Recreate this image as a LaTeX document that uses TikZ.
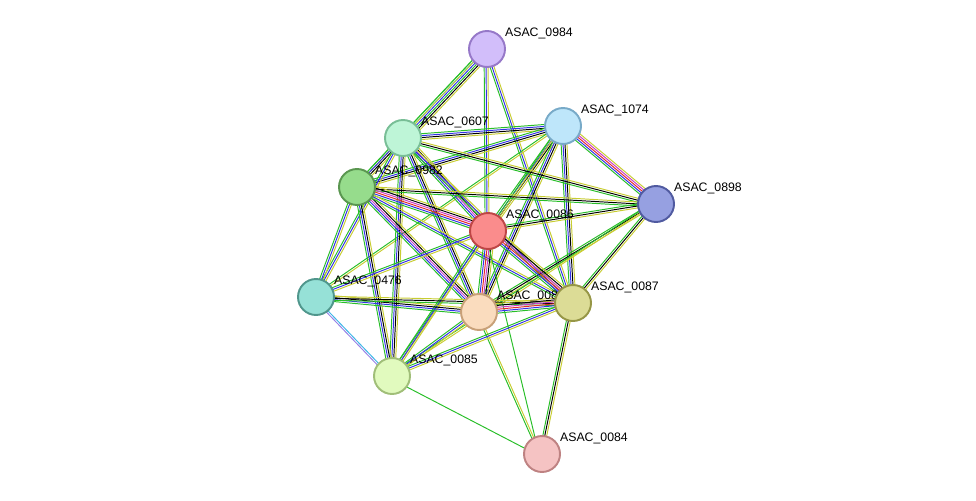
\documentclass[tikz,border=0pt]{standalone}
\usepackage{fontspec}
\setmainfont{Liberation Sans}
\usetikzlibrary{calc}
\definecolor{sgreen}{RGB}{40,190,40}
\definecolor{sblue}{RGB}{50,50,230}
\definecolor{syel}{RGB}{200,205,50}
\definecolor{sred}{RGB}{230,40,40}
\definecolor{smag}{RGB}{200,60,200}
\definecolor{slav}{RGB}{150,130,230}
\definecolor{scyan}{RGB}{60,180,230}
\tikzset{
  prot/.style={circle, minimum size=0.72cm, inner sep=0pt, line width=1.1pt},
  lbl/.style={anchor=south west, inner sep=1pt, font=\fontsize{7}{8}\selectfont},
}
% multi-coloured link between two proteins
\newcommand\lnk[3]{%
  \foreach \c [count=\i] in {#3}{%
    \pgfmathsetmacro\off{(\i-2.5)*1.1}
    \draw[\c, line width=0.55pt] ($(#1)!\off pt!90:(#2)$) -- ($(#2)!\off pt!-90:(#1)$);
  }}
\begin{document}
\begin{tikzpicture}[x=0.02cm, y=-0.02cm]
    \useasboundingbox (0,0) rectangle (976,500);
    % positions
    \coordinate (a0984) at (487,49);
    \coordinate (a1074) at (563,126);
    \coordinate (a0607) at (403,138);
    \coordinate (a0982) at (357,187);
    \coordinate (a0898) at (656,204);
    \coordinate (a0086) at (488,231);
    \coordinate (a0476) at (316,297);
    \coordinate (a0089) at (479,312);
    \coordinate (a0087) at (573,303);
    \coordinate (a0085) at (392,376);
    \coordinate (a0084) at (542,454);

    % links
    \lnk{a0984}{a0607}{sgreen,scyan,sblue,sgreen,black,syel}
    \lnk{a0984}{a0086}{sgreen,sblue,syel}
    \lnk{a0984}{a0087}{sgreen,sblue,syel}
    \lnk{a0984}{a0982}{sgreen,syel}
    \lnk{a1074}{a0607}{sgreen,sblue,black,syel}
    \lnk{a1074}{a0982}{sgreen,sblue,black,syel}
    \lnk{a1074}{a0086}{sgreen,sblue,black,syel}
    \lnk{a1074}{a0089}{sgreen,sblue,black,syel}
    \lnk{a1074}{a0087}{sgreen,sblue,black,syel}
    \lnk{a1074}{a0898}{sgreen,sblue,sred,smag,syel}
    \lnk{a1074}{a0476}{sgreen,syel}
    \lnk{a1074}{a0085}{sgreen,syel}
    \lnk{a0607}{a0982}{sgreen,sblue,black,syel}
    \lnk{a0607}{a0898}{sgreen,black,syel}
    \lnk{a0607}{a0086}{sgreen,sblue,smag,black,syel}
    \lnk{a0607}{a0089}{sgreen,sblue,black,syel}
    \lnk{a0607}{a0087}{sgreen,sblue,syel}
    \lnk{a0607}{a0476}{sgreen,sblue,syel}
    \lnk{a0607}{a0085}{sgreen,sblue,black,syel}
    \lnk{a0982}{a0898}{sgreen,black,syel}
    \lnk{a0982}{a0086}{sgreen,sblue,sred,smag,black,syel}
    \lnk{a0982}{a0089}{sgreen,sblue,smag,black,syel}
    \lnk{a0982}{a0087}{sgreen,sblue,syel}
    \lnk{a0982}{a0476}{sgreen,sblue,syel}
    \lnk{a0982}{a0085}{sgreen,sblue,black,syel}
    \lnk{a0898}{a0086}{sgreen,black,syel}
    \lnk{a0898}{a0089}{sgreen,black,syel}
    \lnk{a0898}{a0087}{sgreen,black,syel}
    \lnk{a0898}{a0085}{sgreen,syel}
    \lnk{a0086}{a0476}{sgreen,sblue,syel}
    \lnk{a0086}{a0089}{sgreen,sblue,sred,smag,black,syel}
    \lnk{a0086}{a0087}{sgreen,sblue,sred,smag,black,syel}
    \lnk{a0086}{a0085}{sgreen,sblue,syel}
    \lnk{a0086}{a0084}{sgreen}
    \lnk{a0476}{a0089}{sgreen,sblue,black,syel}
    \lnk{a0476}{a0087}{sgreen,black,syel}
    \lnk{a0476}{a0085}{slav,scyan}
    \lnk{a0089}{a0087}{sgreen,sblue,sred,smag,black,syel}
    \lnk{a0089}{a0085}{sgreen,sblue,syel}
    \lnk{a0089}{a0084}{sgreen,syel}
    \lnk{a0087}{a0085}{sgreen,sblue,syel}
    \lnk{a0087}{a0084}{sgreen,black,syel}
    \lnk{a0085}{a0084}{sgreen}

    % proteins
    \node[prot, fill={rgb,255:red,210;green,190;blue,250}, draw={rgb,255:red,150;green,120;blue,200}] (p0984) at (a0984) {};
    \node[lbl] at ($(p0984)+(16,-8)$) {ASAC\_0984};
    \node[prot, fill={rgb,255:red,190;green,230;blue,250}, draw={rgb,255:red,120;green,170;blue,200}] (p1074) at (a1074) {};
    \node[lbl] at ($(p1074)+(16,-8)$) {ASAC\_1074};
    \node[prot, fill={rgb,255:red,190;green,245;blue,215}, draw={rgb,255:red,120;green,190;blue,150}] (p0607) at (a0607) {};
    \node[lbl] at ($(p0607)+(16,-8)$) {ASAC\_0607};
    \node[prot, fill={rgb,255:red,150;green,220;blue,140}, draw={rgb,255:red,90;green,150;blue,80}] (p0982) at (a0982) {};
    \node[lbl] at ($(p0982)+(16,-8)$) {ASAC\_0982};
    \node[prot, fill={rgb,255:red,150;green,160;blue,225}, draw={rgb,255:red,80;green,90;blue,160}] (p0898) at (a0898) {};
    \node[lbl] at ($(p0898)+(16,-8)$) {ASAC\_0898};
    \node[prot, fill={rgb,255:red,250;green,140;blue,140}, draw={rgb,255:red,190;green,70;blue,70}] (p0086) at (a0086) {};
    \node[lbl] at ($(p0086)+(16,-8)$) {ASAC\_0086};
    \node[prot, fill={rgb,255:red,150;green,225;blue,215}, draw={rgb,255:red,80;green,150;blue,140}] (p0476) at (a0476) {};
    \node[lbl] at ($(p0476)+(16,-8)$) {ASAC\_0476};
    \node[prot, fill={rgb,255:red,250;green,220;blue,190}, draw={rgb,255:red,200;green,160;blue,120}] (p0089) at (a0089) {};
    \node[lbl] at ($(p0089)+(16,-8)$) {ASAC\_0089};
    \node[prot, fill={rgb,255:red,220;green,220;blue,150}, draw={rgb,255:red,150;green,150;blue,70}] (p0087) at (a0087) {};
    \node[lbl] at ($(p0087)+(16,-8)$) {ASAC\_0087};
    \node[prot, fill={rgb,255:red,225;green,250;blue,190}, draw={rgb,255:red,160;green,190;blue,120}] (p0085) at (a0085) {};
    \node[lbl] at ($(p0085)+(16,-8)$) {ASAC\_0085};
    \node[prot, fill={rgb,255:red,245;green,195;blue,195}, draw={rgb,255:red,190;green,130;blue,130}] (p0084) at (a0084) {};
    \node[lbl] at ($(p0084)+(16,-8)$) {ASAC\_0084};
\end{tikzpicture}
\end{document}
